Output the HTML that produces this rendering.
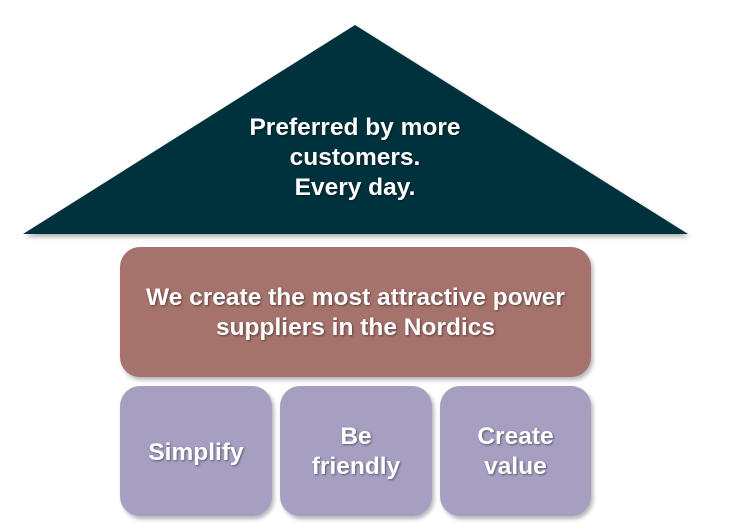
<!DOCTYPE html>
<html><head><style>
body{margin:0;width:730px;height:525px;background:#fff;position:relative;overflow:hidden;font-family:"Liberation Sans",Arial,sans-serif;}
.t{position:absolute;color:#fff;font-weight:bold;font-size:24.5px;line-height:30px;text-align:center;text-shadow:1px 1px 2px rgba(0,0,0,.45);white-space:nowrap;}
.b{position:absolute;border-radius:20px;box-shadow:2px 3px 4px rgba(0,0,0,.3);display:flex;align-items:center;justify-content:center;}
</style></head><body>
<svg width="730" height="525" style="position:absolute;left:0;top:0">
<defs><filter id="s"><feDropShadow dx="2" dy="3" stdDeviation="2" flood-opacity="0.3"/></filter></defs>
<polygon points="355,25 688,234 23,234" fill="#02303d" filter="url(#s)"/>
</svg>
<div class="t" style="left:185px;top:113px;width:340px;">Preferred by more<br>customers.<br>Every day.</div>
<div class="b" style="left:120px;top:247px;width:471px;height:130px;background:#a6726c;"><div class="t" style="position:static;margin-top:2px">We create the most attractive power<br>suppliers in the Nordics</div></div>
<div class="b" style="left:120px;top:386px;width:152px;height:130px;background:#a69fc2;"><div class="t" style="position:static;margin-top:3px">Simplify</div></div>
<div class="b" style="left:280px;top:386px;width:152px;height:130px;background:#a69fc2;"><div class="t" style="position:static;margin-top:2px">Be<br>friendly</div></div>
<div class="b" style="left:440px;top:386px;width:151px;height:130px;background:#a69fc2;"><div class="t" style="position:static;margin-top:2px">Create<br>value</div></div>
</body></html>
